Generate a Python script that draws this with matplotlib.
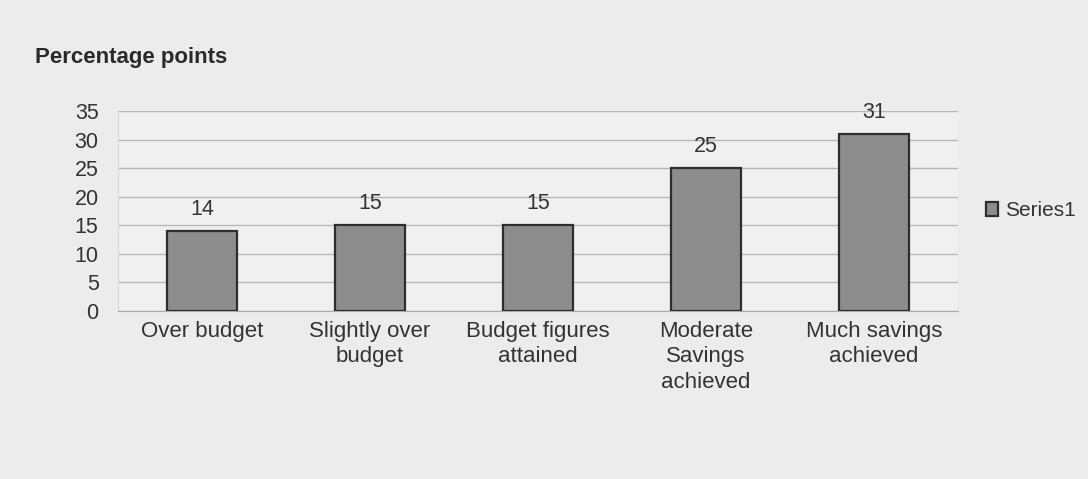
import matplotlib
matplotlib.use("Agg")
import matplotlib.pyplot as plt
import numpy as np

categories = ["Over budget", "Slightly over\nbudget", "Budget figures\nattained",
              "Moderate\nSavings\nachieved", "Much savings\nachieved"]
values = [14, 15, 15, 25, 31]
series_name = "Series1"
y_ticks = [0, 5, 10, 15, 20, 25, 30, 35]

plt.rcParams['font.family'] = ['Liberation Sans', 'DejaVu Sans']

fig = plt.figure(figsize=(10.88, 4.79), dpi=100)
fig.patch.set_facecolor('#ececec')
ax = fig.add_axes([0.1085, 0.351, 0.772, 0.417])
ax.set_facecolor('#f0f0f0')

x = np.arange(len(categories))
bars = ax.bar(x, values, width=0.42, color='#8d8d8d', edgecolor='#2e2e2e',
              linewidth=1.6, label=series_name, zorder=3)
for xi, v in zip(x, values):
    ax.annotate(str(v), (xi, v), xytext=(0, 8), textcoords='offset points',
                ha='center', va='bottom', fontsize=15.5, color='#333333')

ax.set_ylim(0, 35)
ax.set_xlim(-0.5, len(categories) - 0.5)
ax.set_yticks(y_ticks)
ax.set_yticklabels([str(t) for t in y_ticks], fontsize=15.5, color='#333333')
ax.set_xticks(x)
ax.set_xticklabels(categories, fontsize=16, color='#333333', linespacing=1.3)
ax.tick_params(axis='both', length=0)
ax.tick_params(axis='x', pad=7)
ax.tick_params(axis='y', pad=14)
ax.grid(axis='y', color='#b8b8b8', linewidth=1.0, zorder=0)
for s in ['top', 'right']:
    ax.spines[s].set_visible(False)
ax.spines['left'].set_color('#d8d8d8')
ax.spines['bottom'].set_color('#aaaaaa')

fig.text(0.032, 0.88, "Percentage points", fontsize=16, fontweight='bold',
         color='#2a2a2a', ha='left', va='center')

leg = fig.legend(handles=[bars], labels=[series_name], loc='center left',
                 bbox_to_anchor=(0.889, 0.56), frameon=False, fontsize=15,
                 handlelength=0.6, handleheight=0.6, handletextpad=0.3)
for t in leg.get_texts():
    t.set_color('#333333')

fig.savefig("out.png", dpi=100, facecolor=fig.get_facecolor())
